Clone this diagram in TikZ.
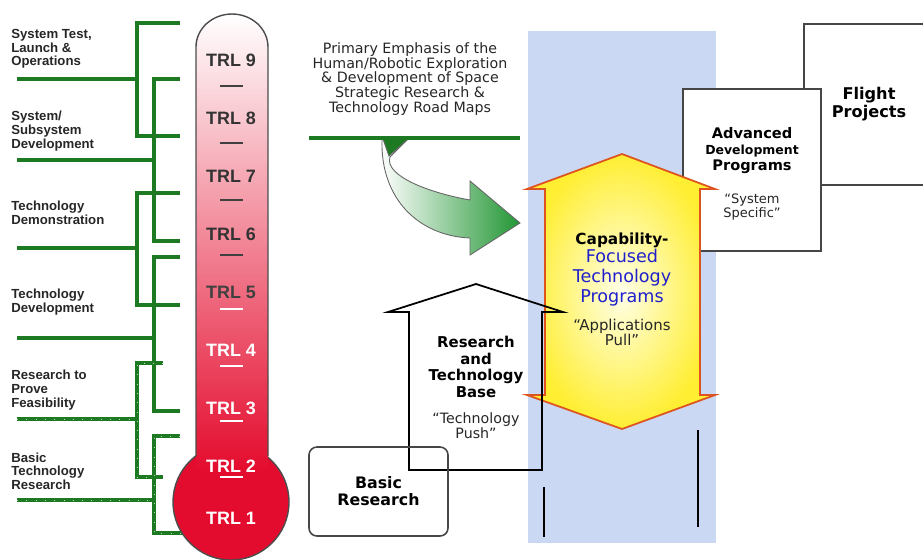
\documentclass[tikz,border=0pt]{standalone}
\usepackage{fontspec}
\usepackage[dvipsnames]{xcolor}
\usetikzlibrary{positioning}
\setmainfont{Liberation Sans}
\newfontfamily\comic{DejaVu Sans}

\definecolor{barGreen}{RGB}{30,122,34}
\definecolor{pushGreen}{RGB}{34,150,52}
\definecolor{trlRed}{RGB}{228,12,46}
\definecolor{trlPink}{RGB}{246,180,188}
\definecolor{skyBlue}{RGB}{202,216,244}
\definecolor{pullYellow}{RGB}{255,238,50}
\definecolor{pullPale}{RGB}{255,255,232}
\definecolor{pullEdge}{RGB}{222,84,30}
\definecolor{focusBlue}{RGB}{32,32,205}
\definecolor{boxGray}{RGB}{70,70,70}

\begin{document}
\begin{tikzpicture}[x=0.02cm,y=-0.02cm,node distance=1.16cm,
    stage label/.style={anchor=west,inner sep=0pt,align=left,text=black!85,font=\fontsize{7.5}{7.8}\selectfont\bfseries},
    trl node/.style={inner sep=0pt,font=\fontsize{10.2}{11}\selectfont\bfseries},
    bracket/.style={draw=barGreen,line width=2.2pt},
    dotted bracket/.style={bracket,postaction={draw=white!70!barGreen,line width=0.3pt,dash pattern=on 0.3pt off 5pt}},
    comic text/.style={inner sep=0pt,align=center,text=black!85,font=\comic\fontsize{8.1}{8.4}\selectfont},
    comic bold/.style={inner sep=0pt,align=center,font=\comic\bfseries\fontsize{8.5}{9.5}\selectfont},
    plain box/.style={draw=boxGray,line width=0.9pt,fill=white}]

    \useasboundingbox (0,0) rectangle (923,559);
    \clip (0,0) rectangle (923,559);

    % stages and their brackets
    \draw[bracket] (180,23) -| (137,136) -- (180,136);
    \draw[bracket] (17,79) -- (137,79);
    \draw[bracket] (180,79) -| (154,241) -- (180,241);
    \draw[bracket] (17,160) -- (154,160);
    \draw[bracket] (180,193) -| (137,305) -- (180,305);
    \draw[bracket] (17,248) -- (137,248);
    \draw[bracket] (180,257) -| (154,411) -- (180,411);
    \draw[bracket] (17,338) -- (154,338);
    \draw[dotted bracket] (163,363) -| (137,477) -- (163,477);
    \draw[dotted bracket] (17,419) -- (137,419);
    \draw[dotted bracket] (180,436) -| (154,533) -- (184,533);
    \draw[dotted bracket] (17,500) -- (154,500);

    \node[stage label] (systest) at (11,49) {System Test,\\Launch \&\\Operations};
    \node[stage label] (subsys) at (11,131) {System/\\Subsystem\\Development};
    \node[stage label] (techdemo) at (11,213) {Technology\\Demonstration};
    \node[stage label] (techdev) at (11,302) {Technology\\Development};
    \node[stage label] (prove) at (11,390) {Research to\\Prove\\Feasibility};
    \node[stage label] (basictech) at (11,471) {Basic\\Technology\\Research};

    % thermometer
    \node[circle,draw=black!70,line width=0.8pt,fill=trlRed,minimum size=2.32cm,inner sep=0pt] (bulb) at (231,502) {};
    \shade[top color=white,middle color=trlPink,bottom color=trlRed]
        (196,470) -- (196,47) arc[start angle=180,end angle=0,x radius=0.72cm,y radius=0.66cm] -- (268,470) -- cycle;
    \draw[black!70,line width=0.8pt]
        (196,456) -- (196,47) arc[start angle=180,end angle=0,x radius=0.72cm,y radius=0.66cm] -- (268,456);

    \node[trl node,text=black!80] (trl9) at (231,60) {TRL 9};
    \node[trl node,text=black!80] (trl8) [below of=trl9] {TRL 8};
    \node[trl node,text=black!80] (trl7) [below of=trl8] {TRL 7};
    \node[trl node,text=black!80] (trl6) [below of=trl7] {TRL 6};
    \node[trl node,text=black!75] (trl5) [below of=trl6] {TRL 5};
    \node[trl node,text=white] (trl4) [below of=trl5] {TRL 4};
    \node[trl node,text=white] (trl3) [below of=trl4] {TRL 3};
    \node[trl node,text=white] (trl2) [below of=trl3] {TRL 2};
    \node[trl node,text=white] (trl1) at (231,518) {TRL 1};

    \draw[black!75,line width=0.6pt] (220,86) -- (243,86) (220,143) -- (243,143)
        (220,200) -- (243,200) (220,255) -- (243,255);
    \draw[white,line width=0.6pt] (220,309) -- (243,309) (220,366) -- (243,366)
        (220,421) -- (243,421) (220,477) -- (243,477);

    % road maps and the bent arrow
    \node[comic text] (emphasis) at (410,79) {Primary Emphasis of the\\Human/Robotic Exploration\\\& Development of Space\\Strategic Research \&\\Technology Road Maps};
    \shadedraw[left color=white,right color=pushGreen,draw=black!60,line width=0.5pt]
        (382,139) .. controls (380,200) and (420,236) .. (470,238) -- (470,255) -- (520,223)
        -- (470,181) -- (470,200) .. controls (430,193) and (384,176) .. (390,157) -- (408,139) -- cycle;
    \filldraw[fill=barGreen,draw=black!60,line width=0.5pt] (383,139) -- (408,139) -- (389,156) -- cycle;
    \draw[barGreen,line width=2.2pt] (309,138) -- (520,138);

    % programs column
    \fill[skyBlue] (528,31) rectangle (716,543);
    \filldraw[fill=white,draw=boxGray,line width=0.9pt] (930,24) -| (804,185) -- (930,185);
    \node[plain box,minimum width=2.76cm,minimum height=3.24cm,inner sep=0pt] (advbox) at (752,170) {};

    \shadedraw[inner color=pullPale,outer color=pullYellow,draw=pullEdge,line width=1pt]
        (622,154) -- (715,189) -- (700,189) -- (700,395) -- (715,395) -- (622,429)
        -- (527,395) -- (545,395) -- (545,189) -- (527,189) -- cycle;

    \draw[black,line width=1pt] (476,284) -- (563,312) -- (542,312) -- (542,470)
        -- (409,470) -- (409,312) -- (388,312) -- cycle;
    \node[draw=boxGray,line width=0.9pt,rounded corners=4.5pt,minimum width=2.78cm,minimum height=1.78cm,
        comic bold,font=\comic\bfseries\fontsize{9}{9.6}\selectfont] (basic) at (378.5,491.5) {Basic\\Research};

    \draw[black,line width=0.8pt] (544,487) -- (544,537);
    \draw[black,line width=0.8pt] (698,430) -- (698,527);

    \node[comic bold,font=\comic\bfseries\fontsize{8.7}{9}\selectfont] (capab) at (622,240) {Capability-};
    \node[comic text,text=focusBlue,font=\comic\fontsize{10}{11.3}\selectfont] (focused) [below of=capab,node distance=0.76cm] {Focused\\Technology\\Programs};
    \node[comic text,font=\comic\fontsize{8.5}{8.5}\selectfont] (pull) at (622,332) {“Applications\\Pull”};

    \node[comic bold] (rtb) at (476,367) {Research\\and\\Technology\\Base};
    \node[comic text] (push) at (476,426) {“Technology\\Push”};

    \node[comic bold,font=\comic\bfseries\fontsize{8.3}{9.1}\selectfont] (advtitle) at (752,151) {Advanced\\{\fontsize{7.1}{9.1}\selectfont Development}\\Programs};
    \node[comic text,font=\comic\fontsize{7.4}{7.6}\selectfont] (sysspec) at (752,207) {“System\\Specific”};
    \node[comic bold,font=\comic\bfseries\fontsize{9.2}{10.2}\selectfont] (flight) at (869,104) {Flight\\Projects};
\end{tikzpicture}
\end{document}
